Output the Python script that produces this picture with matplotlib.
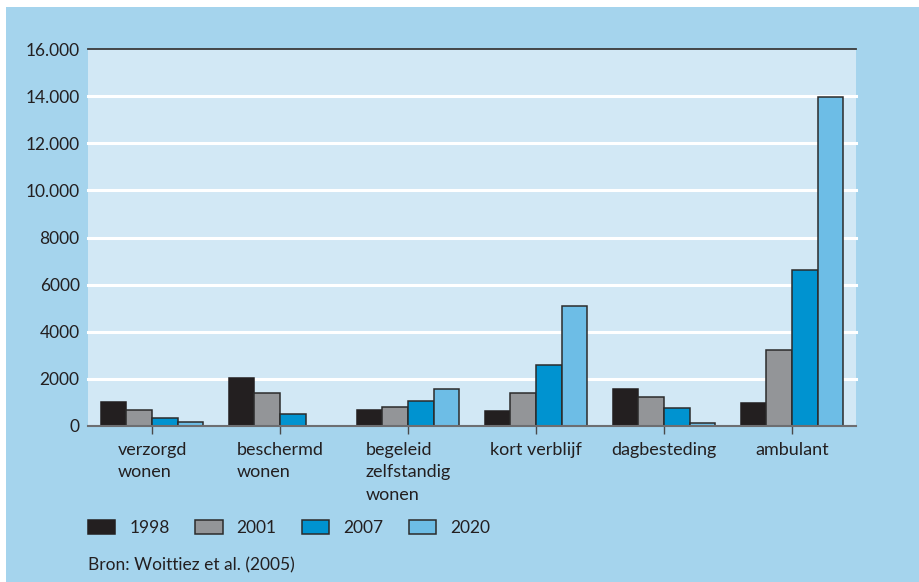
import matplotlib
matplotlib.use('Agg')
import matplotlib.pyplot as plt
import numpy as np
from matplotlib.patches import Rectangle, Patch

plt.rcParams['font.family'] = ['Lato', 'DejaVu Sans']

categories = ['verzorgd\nwonen', 'beschermd\nwonen', 'begeleid\nzelfstandig\nwonen',
              'kort verblijf', 'dagbesteding', 'ambulant']
years = ['1998', '2001', '2007', '2020']
v1998 = [1020, 2040, 680, 640, 1570, 980]
v2001 = [700, 1410, 820, 1390, 1230, 3210]
v2007 = [330, 500, 1060, 2580, 750, 6610]
v2020 = [170, 20, 1580, 5110, 110, 13980]
series = [v1998, v2001, v2007, v2020]
colors = ['#231f20', '#939598', '#0093d0', '#6dbde6']
yticks = [0, 2000, 4000, 6000, 8000, 10000, 12000, 14000, 16000]
ytick_labels = ['0', '2000', '4000', '6000', '8000', '10.000', '12.000', '14.000', '16.000']

W, H = 919, 582
fig = plt.figure(figsize=(W/100, H/100), dpi=100, facecolor='white')
# blue panel behind everything
fig.add_artist(Rectangle((6/W, 0), 1 - 6/W, 1 - 7/H, transform=fig.transFigure,
                         facecolor='#a5d4ed', edgecolor='none', zorder=-5))

ax = fig.add_axes([88/W, (H-426)/H, (856-88)/W, (426-49)/H])
ax.set_zorder(2)
ax.set_facecolor('#d2e8f5')

x = np.arange(len(categories))
w = 0.2
for i, (vals, c) in enumerate(zip(series, colors)):
    ax.bar(x + (i - 1.5)*w, vals, w, color=c, edgecolor='#2b2b2b' if i else c,
           linewidth=1.1, zorder=3)

ax.set_xlim(-0.5, 5.5)
ax.set_ylim(0, 16000)
ax.set_yticks(yticks)
ax.set_yticklabels(ytick_labels)
ax.set_xticks(x)
ax.set_xticklabels(categories)
for lab in ax.get_xticklabels():
    lab.set_multialignment('left')
    lab.set_linespacing(1.5)

for y in yticks[1:-1]:
    ax.axhline(y, color='white', linewidth=2.2, zorder=1, clip_on=False)

for s in ['left', 'right']:
    ax.spines[s].set_visible(False)
ax.spines['top'].set_color('#3a3a3a')
ax.spines['top'].set_linewidth(1.3)
ax.spines['bottom'].set_color('#6d6e71')
ax.spines['bottom'].set_linewidth(1.5)
ax.spines['bottom'].set_zorder(4)

ax.tick_params(axis='y', length=0, pad=6, labelsize=12.5, labelcolor='#231f20')
ax.tick_params(axis='x', length=5.5, width=1, color='#4a4a4a', direction='out',
               pad=6, labelsize=13, labelcolor='#231f20')

handles = [Patch(facecolor=c, edgecolor='#2b2b2b' if i else c, linewidth=1.1)
           for i, c in enumerate(colors)]
fig.legend(handles, years, ncol=4, loc='center left', frameon=False,
           bbox_to_anchor=(72/W, (H-528)/H), fontsize=12.5,
           handlelength=1.6, handleheight=0.8, handletextpad=0.8,
           columnspacing=1.45, labelcolor='#231f20')

fig.text(88/W, (H-565)/H, 'Bron: Woittiez et al. (2005)', fontsize=12.5,
         color='#231f20', va='center', ha='left')

fig.savefig('out.png', dpi=100, facecolor='white')
